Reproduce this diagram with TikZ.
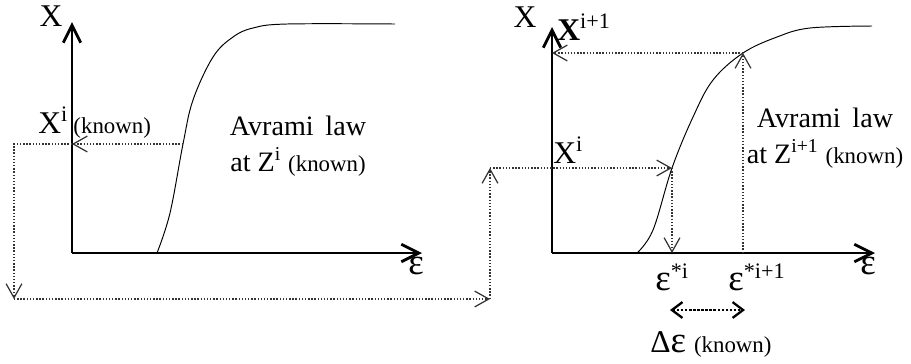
\documentclass[tikz,border=0pt]{standalone}
\usepackage{fontspec}
\setmainfont{Liberation Serif}
\usetikzlibrary{arrows.meta,calc,positioning}

\newcommand{\known}{{\fontsize{13}{15}\selectfont(known)}}
\newcommand{\eps}{{\fontsize{21}{22}\selectfont ε}}

\tikzset{
  axis/.style={line width=1.6pt, -{Straight Barb[length=10pt,width=10pt,line width=1.6pt]}},
  law/.style={line width=0.55pt},
  flow/.style={densely dotted, line width=0.8pt, black!80, -{Straight Barb[length=8pt,width=9pt,line width=0.7pt]}},
  big/.style={font=\fontsize{18}{20}\selectfont, inner sep=0pt},
  mid/.style={font=\fontsize{16}{20.5}\selectfont, inner sep=0pt, align=center}
}

\begin{document}
\begin{tikzpicture}[x=0.02cm,y=-0.02cm]
    \useasboundingbox (0,0) rectangle (911,363);
    % left panel
    \coordinate (o1) at (72,253);
    \coordinate (xa1) at (72,22);
    \coordinate (ea1) at (422,253);
    \draw[axis] (o1) -- (xa1);
    \draw[axis] (o1) -- (ea1);
    \node[big] (lx1) at (51,16) {X};
    \node[big] (le1) at (416,266) {\eps};
    \draw[law] plot[smooth, tension=0.6] coordinates {(157,253) (170,213) (183,144) (193,100) (213,57) (233,37) (253,28) (287,24) (395,24)};
    \coordinate (c1) at (183,144);
    \coordinate (a1) at (72,144);
    \node[big, anchor=base west] (xi1) at (38,133) {X\textsuperscript{i}\,\known};
    \node[mid] (law1) at (298,146) {Avrami\,\ law\\at Z\textsuperscript{i} \known};

    % link between the two panels
    \coordinate (k1) at (14,144);
    \coordinate (k2) at (14,299);
    \coordinate (k3) at (490,299);
    \coordinate (k4) at (490,168);
    \draw[flow] (c1) -- (a1);
    \draw[flow] (a1) -- (k1) -- (k2);
    \draw[flow] (k2) -- (k3);
    \draw[flow] (k3) -- (k4);

    % right panel
    \coordinate (o2) at (552,253);
    \coordinate (xa2) at (552,27);
    \coordinate (ea2) at (875,253);
    \draw[axis] (o2) -- (xa2);
    \draw[axis] (o2) -- (ea2);
    \node[big] (lx2) at (525,17) {X};
    \node[big] (le2) at (868,266) {\eps};
    \draw[law] plot[smooth, tension=0.6] coordinates {(637,253) (653,230) (672,168) (693,117) (713,80) (743,53) (777,37) (810,28) (872,26)};
    \coordinate (p1) at (672,168);
    \coordinate (p2) at (743,53);
    \coordinate (e1) at (672,253);
    \coordinate (e2) at (743,253);
    \coordinate (a2) at (552,53);
    \draw[flow] (k4) -- (p1);
    \draw[flow] (p1) -- (e1);
    \draw[flow] (e2) -- (p2);
    \draw[flow] (p2) -- (a2);
    \node[big, anchor=base west, font=\fontsize{18}{20}\selectfont\bfseries] (xn) at (557,40) {X\textsuperscript{\mdseries i+1}};
    \node[big, anchor=base west] (xi2) at (553,163) {X\textsuperscript{i}};
    \node[mid] (law2) at (825,138) {Avrami\,\ law\\at Z\textsuperscript{i+1} \known};
    \node[big, anchor=base west] (es1) at (655,290) {\eps\textsuperscript{*i}};
    \node[big, anchor=base west] (es2) at (728,290) {\eps\textsuperscript{*i+1}};
    \coordinate (d1) at (670,310);
    \coordinate (d2) at (745,310);
    \draw[densely dotted, line width=1.3pt, {Straight Barb[length=6pt,width=9pt,line width=1.3pt]}-{Straight Barb[length=6pt,width=9pt,line width=1.3pt]}] (d1) -- (d2);
    \node[big, anchor=base west] (de) at (650,352) {Δ\eps\ \known};
\end{tikzpicture}
\end{document}
